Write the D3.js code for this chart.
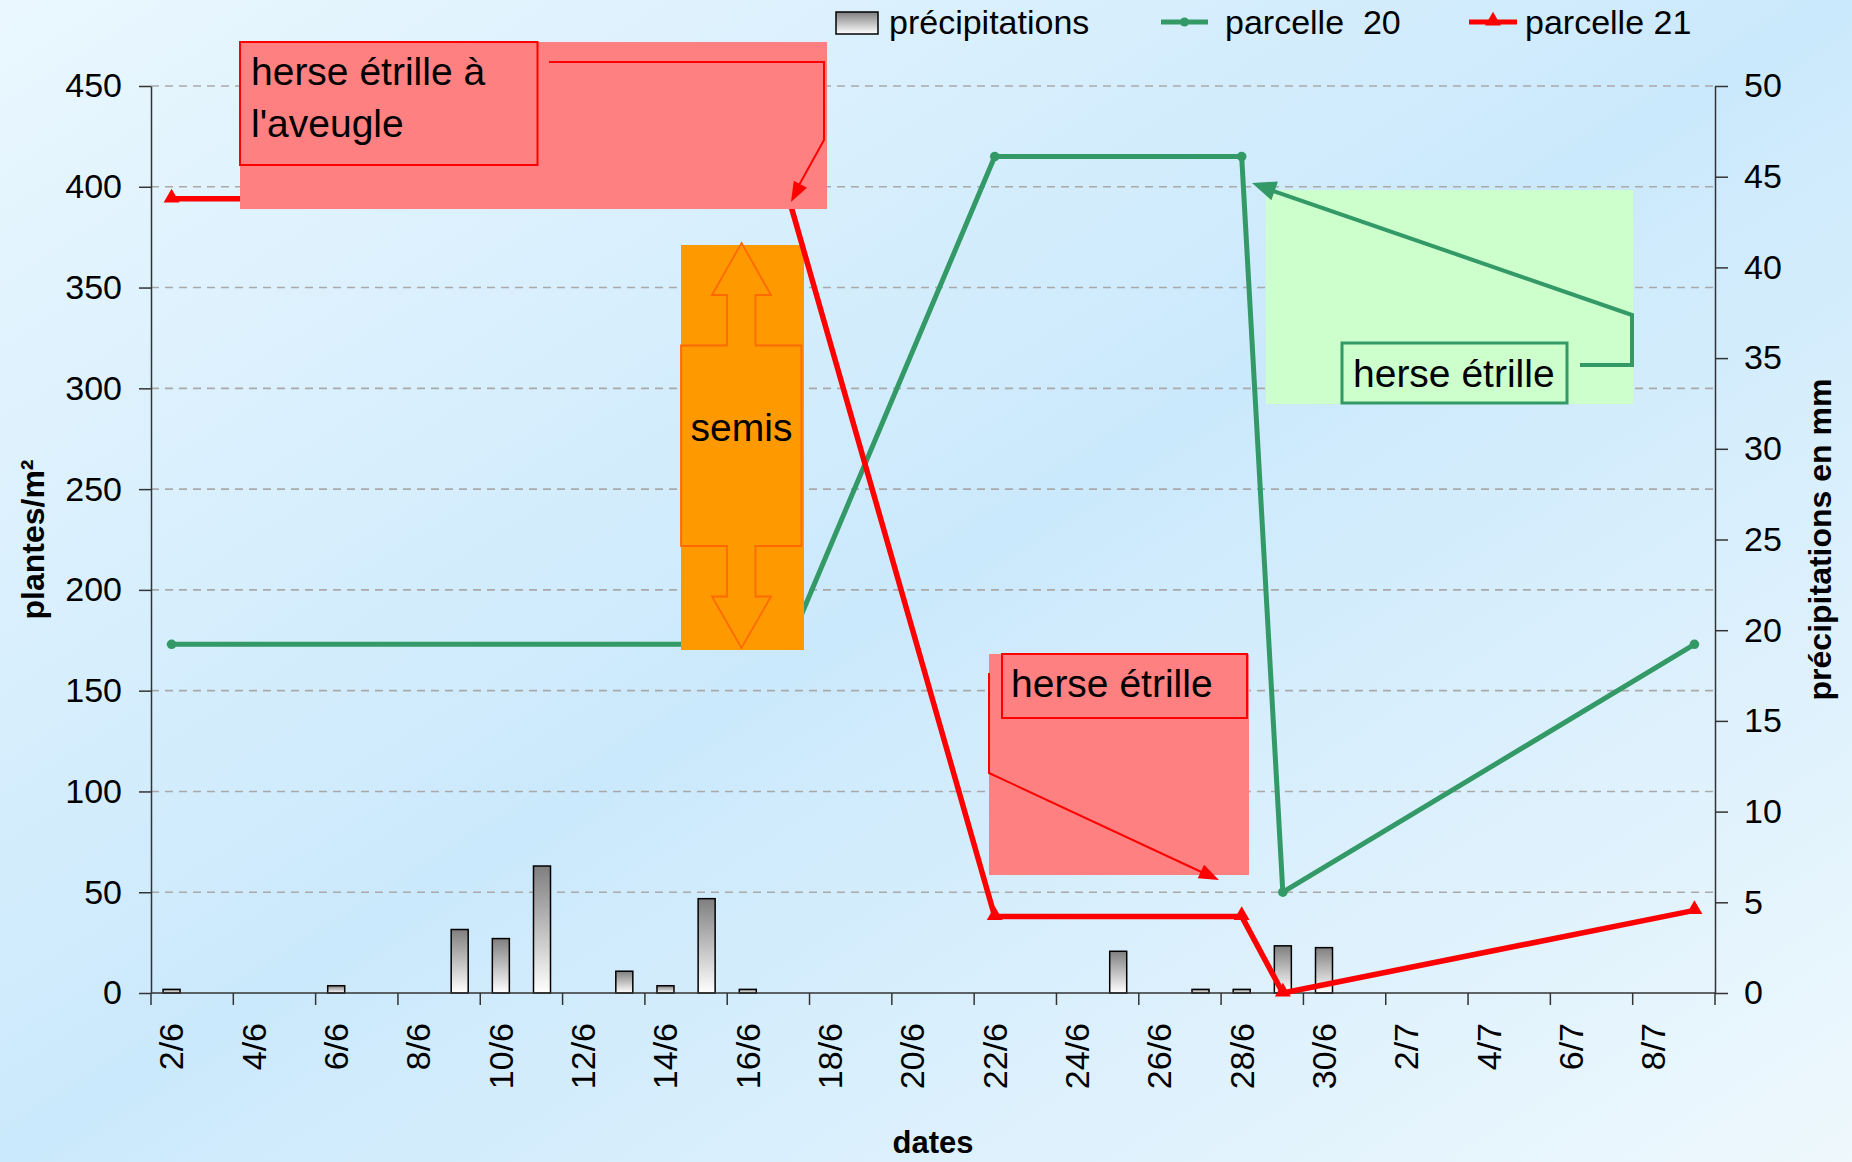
<!DOCTYPE html>
<html>
<head>
<meta charset="utf-8">
<script src="https://cdn.jsdelivr.net/npm/d3@7"></script>
<style>
html,body{margin:0;padding:0;overflow:hidden;}
svg{display:block;font-family:"Liberation Sans",Arial,sans-serif;}
</style>
</head>
<body>
<svg id="chart" width="1852" height="1162"></svg>
<script>
// ---------- DATA ----------
const dates = ["2/6","3/6","4/6","5/6","6/6","7/6","8/6","9/6","10/6","11/6","12/6","13/6","14/6","15/6","16/6","17/6","18/6","19/6","20/6","21/6","22/6","23/6","24/6","25/6","26/6","27/6","28/6","29/6","30/6","1/7","2/7","3/7","4/7","5/7","6/7","7/7","8/7","9/7"];
const tickLabels = ["2/6","4/6","6/6","8/6","10/6","12/6","14/6","16/6","18/6","20/6","22/6","24/6","26/6","28/6","30/6","2/7","4/7","6/7","8/7"];
const precipDates = ["2/6","6/6","9/6","10/6","11/6","13/6","14/6","15/6","16/6","25/6","27/6","28/6","29/6","30/6"];
const precipValues = [0.2,0.4,3.5,3.0,7.0,1.2,0.4,5.2,0.2,2.3,0.2,0.2,2.6,2.5];
const p20Dates = ["2/6","17/6","22/6","28/6","29/6","9/7"];
const p20Values = [173,173,415,415,50,173];
const p21Dates = ["2/6","17/6","22/6","28/6","29/6","9/7"];
const p21Values = [394,394,38,38,0,41];
const leftTicks = [0,50,100,150,200,250,300,350,400,450];
const rightTicks = [0,5,10,15,20,25,30,35,40,45,50];

// ---------- SETUP ----------
const svg = d3.select("#chart");
const W = 1852, H = 1162;
const L = 151, R = 1715, T = 86, B = 993;
const GREEN = "#339966", RED = "#ff0000";

const defs = svg.append("defs");
const bg = defs.append("linearGradient").attr("id","bg").attr("x1",0).attr("y1",0).attr("x2",1).attr("y2",1);
bg.append("stop").attr("offset","0").attr("stop-color","#eaf7fe");
bg.append("stop").attr("offset","0.5").attr("stop-color","#cbe9fc");
bg.append("stop").attr("offset","1").attr("stop-color","#eef8fd");
const bar = defs.append("linearGradient").attr("id","bar").attr("x1",0).attr("y1",0).attr("x2",0).attr("y2",1);
bar.append("stop").attr("offset","0").attr("stop-color","#7f7f7f");
bar.append("stop").attr("offset","1").attr("stop-color","#ffffff");

svg.append("rect").attr("width",W).attr("height",H).attr("fill","url(#bg)");

const x = d3.scaleBand().domain(dates).range([L,R]).padding(0);
const cx = d => x(d) + x.bandwidth()/2;
const yL = d3.scaleLinear().domain([0,450]).range([B,T]);
const yR = d3.scaleLinear().domain([0,50]).range([B,T]);

// gridlines
svg.append("g").selectAll("line").data(leftTicks.filter(v=>v>0)).join("line")
  .attr("x1",L).attr("x2",R).attr("y1",d=>yL(d)).attr("y2",d=>yL(d))
  .attr("stroke","#a9a9a9").attr("stroke-width",1.6).attr("stroke-dasharray","8,6");

// bars
const bw = 17;
svg.append("g").selectAll("rect").data(precipDates.map((d,i)=>({d,v:precipValues[i]}))).join("rect")
  .attr("x",d=>cx(d.d)-bw/2).attr("width",bw)
  .attr("y",d=>yR(d.v)).attr("height",d=>B-yR(d.v))
  .attr("fill","url(#bar)").attr("stroke","#000").attr("stroke-width",1.5);

// axes
const fs = 34;
const gl = svg.append("g").attr("transform",`translate(${L},0)`)
  .call(d3.axisLeft(yL).tickValues(leftTicks).tickSize(12).tickPadding(17).tickSizeOuter(0));
const gr = svg.append("g").attr("transform",`translate(${R},0)`)
  .call(d3.axisRight(yR).tickValues(rightTicks).tickSize(13).tickPadding(16).tickSizeOuter(0));
[gl,gr].forEach(g=>{
  g.selectAll("text").attr("font-size",fs).attr("fill","#000").attr("font-family","Liberation Sans, Arial");
  g.selectAll("line").attr("stroke","#333").attr("stroke-width",1.5);
  g.select(".domain").attr("stroke","#333").attr("stroke-width",1.5);
});

// x axis
const gx = svg.append("g");
gx.append("line").attr("x1",L).attr("x2",R).attr("y1",B).attr("y2",B).attr("stroke","#333").attr("stroke-width",1.5);
const tickEdges = dates.filter((d,i)=>i%2===0).map(d=>x(d)).concat([R]);
gx.selectAll("line.t").data(tickEdges).join("line").attr("class","t")
  .attr("x1",d=>d).attr("x2",d=>d).attr("y1",B).attr("y2",B+12)
  .attr("stroke","#333").attr("stroke-width",1.5);
gx.selectAll("text").data(tickLabels).join("text")
  .attr("transform",d=>`translate(${cx(d)},${B+30}) rotate(-90)`)
  .attr("text-anchor","end").attr("dy","0.35em")
  .attr("font-size",fs).text(d=>d);

// axis titles
svg.append("text").attr("transform",`translate(33,${(T+B)/2}) rotate(-90)`)
  .attr("text-anchor","middle").attr("dy","0.35em").attr("font-weight","bold").attr("font-size",32).text("plantes/m²");
svg.append("text").attr("transform",`translate(1820,${(T+B)/2}) rotate(-90)`)
  .attr("text-anchor","middle").attr("dy","0.35em").attr("font-weight","bold").attr("font-size",32).text("précipitations en mm");
svg.append("text").attr("x",(L+R)/2).attr("y",1153).attr("text-anchor","middle")
  .attr("font-weight","bold").attr("font-size",31).text("dates");

// lines
const line = d3.line().x(d=>cx(d.d)).y(d=>yL(d.v));
const p20 = p20Dates.map((d,i)=>({d,v:p20Values[i]}));
const p21 = p21Dates.map((d,i)=>({d,v:p21Values[i]}));

svg.append("path").datum(p20).attr("d",line).attr("fill","none").attr("stroke",GREEN).attr("stroke-width",5).attr("stroke-linejoin","round");
svg.append("g").selectAll("circle").data(p20).join("circle")
  .attr("cx",d=>cx(d.d)).attr("cy",d=>yL(d.v)).attr("r",4.8).attr("fill",GREEN);

// semis annotation (orange)
svg.append("rect").attr("x",681).attr("y",245).attr("width",123).attr("height",405).attr("fill","#ff9900");
const ax = 741.5;
const semisPath = [
  [ax,243],[771,295],[755.5,295],[755.5,345.5],[801.5,345.5],[801.5,546],[755.5,546],[755.5,596.5],[771,596.5],[ax,648],
  [712,596.5],[727,596.5],[727,546],[681,546],[681,345.5],[727,345.5],[727,295],[712,295]
];
svg.append("path").attr("d","M"+semisPath.map(p=>p.join(",")).join("L")+"Z")
  .attr("fill","#ff9900").attr("stroke","#ff6a00").attr("stroke-width",1.8);
svg.append("text").attr("x",ax).attr("y",441).attr("text-anchor","middle").attr("font-size",39).text("semis");

// red line
svg.append("path").datum(p21).attr("d",line).attr("fill","none").attr("stroke",RED).attr("stroke-width",5.5).attr("stroke-linejoin","round");
const tri = d3.symbol().type(d3.symbolTriangle).size(110);
svg.append("g").selectAll("path").data(p21).join("path")
  .attr("transform",d=>`translate(${cx(d.d)},${yL(d.v)-1})`).attr("d",tri).attr("fill",RED);

// arrow helper
function arrowHead(g, x1,y1,x2,y2,len,wid,color){
  const a = Math.atan2(y2-y1,x2-x1);
  const bx = x2 - len*Math.cos(a), by = y2 - len*Math.sin(a);
  const px = -Math.sin(a)*wid/2, py = Math.cos(a)*wid/2;
  g.append("path").attr("d",`M${x2},${y2}L${bx+px},${by+py}L${bx-px},${by-py}Z`).attr("fill",color);
}

// callout 1 : herse étrille à l'aveugle
const c1 = svg.append("g");
c1.append("rect").attr("x",240).attr("y",42).attr("width",587).attr("height",167).attr("fill","#ff8080");
c1.append("rect").attr("x",240).attr("y",42).attr("width",297.5).attr("height",123).attr("fill","none").attr("stroke",RED).attr("stroke-width",2);
c1.append("polyline").attr("points","549,62 824,62 824,140 793,196").attr("fill","none").attr("stroke",RED).attr("stroke-width",2);
arrowHead(c1,824,140,791,202,20,15,RED);
c1.append("text").attr("x",251).attr("y",85).attr("font-size",39).text("herse étrille à");
c1.append("text").attr("x",251).attr("y",137).attr("font-size",39).text("l'aveugle");

// callout 2 : herse étrille (red)
const c2 = svg.append("g");
c2.append("rect").attr("x",989).attr("y",654).attr("width",260).attr("height",221).attr("fill","#ff8080");
c2.append("rect").attr("x",1002).attr("y",654).attr("width",245).attr("height",64).attr("fill","none").attr("stroke",RED).attr("stroke-width",2);
c2.append("polyline").attr("points","989,673 989,773 1210,876").attr("fill","none").attr("stroke",RED).attr("stroke-width",2);
arrowHead(c2,989,773,1219,880,20,15,RED);
c2.append("text").attr("x",1011).attr("y",697).attr("font-size",39).text("herse étrille");

// callout 3 : herse étrille (green)
const c3 = svg.append("g");
c3.append("rect").attr("x",1266).attr("y",190).attr("width",367).attr("height",214).attr("fill","#ccffcc");
c3.append("rect").attr("x",1342).attr("y",343).attr("width",225).attr("height",60).attr("fill","#ccffcc").attr("stroke",GREEN).attr("stroke-width",3);
c3.append("polyline").attr("points","1580,365 1632,365 1632,315 1262,187").attr("fill","none").attr("stroke",GREEN).attr("stroke-width",4);
arrowHead(c3,1632,315,1252,183,24,20,GREEN);
c3.append("text").attr("x",1353).attr("y",387).attr("font-size",39).text("herse étrille");

// legend
const lg = svg.append("g").attr("font-size",34);
lg.append("rect").attr("x",836).attr("y",12).attr("width",42).attr("height",22).attr("fill","url(#bar)").attr("stroke","#000").attr("stroke-width",1.5);
lg.append("text").attr("x",889).attr("y",34).text("précipitations");
lg.append("line").attr("x1",1161).attr("x2",1208).attr("y1",22).attr("y2",22).attr("stroke",GREEN).attr("stroke-width",5);
lg.append("circle").attr("cx",1184.5).attr("cy",22).attr("r",4.5).attr("fill",GREEN);
lg.append("text").attr("x",1225).attr("y",34).attr("xml:space","preserve").style("white-space","pre").text("parcelle  20");
lg.append("line").attr("x1",1469).attr("x2",1517).attr("y1",22).attr("y2",22).attr("stroke",RED).attr("stroke-width",5);
lg.append("path").attr("transform","translate(1493,21)").attr("d",tri).attr("fill",RED);
lg.append("text").attr("x",1525).attr("y",34).text("parcelle 21");
</script>
</body>
</html>
